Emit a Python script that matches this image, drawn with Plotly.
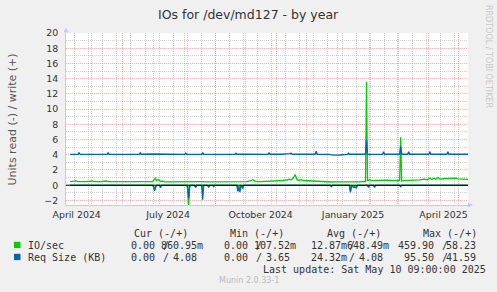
import plotly.graph_objects as go
import pandas as pd

# ---------------- data ----------------
start = pd.Timestamp("2024-04-05 09:00")
end = pd.Timestamp("2025-05-10 09:00")

# IO/sec write (+), days after start
io_write_days = [4, 8, 10, 12, 16, 20, 24, 26, 28, 32, 36, 40, 42, 46, 50, 54, 58, 62, 66, 70, 74, 78, 82, 86,
                 88, 89, 90, 92, 94, 96, 98, 102, 106, 110, 114, 118, 122, 126, 130, 134, 136, 140, 144, 148,
                 152, 156, 160, 164, 168, 172, 176, 180, 184, 186, 188, 190, 194, 198, 202, 206, 210, 214, 216,
                 218, 220, 222, 224, 226, 228, 229, 230, 232, 234, 236, 240, 244, 248, 252, 256, 260, 264, 268,
                 272, 276, 280, 284, 288, 292, 296, 298, 299, 300, 302, 304, 308, 312, 316, 320, 324, 328, 332,
                 333, 334, 336, 340, 344, 348, 352, 356, 360, 362, 364, 366, 368, 370, 372, 376, 380, 382, 386,
                 388, 390, 394, 398, 400]
io_write_vals = [.48, .50, .58, .48, .46, .47, .52, .57, .47, .45, .49, .55, .47, .46, .45, .48, .46, .47, .45, .46,
                 .45, .47, .46, .48, .70, .92, .60, .75, .48, .55, .45, .46, .47, .45, .48, .46, .50, .46, .47,
                 .52, .46, .45, .46, .45, .47, .46, .45, .47, .46, .45, .46, .48, .60, .72, .55, .48, .47, .50,
                 .47, .52, .60, .65, .62, .70, .66, .80, .68, .90, 1.40, 1.0, .70, .62, .75, .62, .58, .55, .50,
                 .47, .46, .44, .42, .43, .42, .44, .45, .43, .44, .45, .50, .46, 13.6, .55, .75, .60, .62, .64,
                 .70, .66, .62, .60, .62, 6.3, .55, .60, .62, .66, .64, .70, .80, .72, .95, .75, .92, .78, 1.0,
                 .80, .85, .88, .82, .86, .92, .82, .80, .76, .78]

# IO/sec read (-), magnitudes
io_read_days = [4, 86, 88, 89, 90, 93, 94, 95, 120, 121, 122, 123, 124, 128, 129, 130, 135, 136, 137, 141, 142,
                143, 170, 171, 172, 173, 174, 176, 177, 263, 264, 265, 282, 283, 284, 289, 290, 300, 301, 302,
                306, 307, 308, 332, 333, 334, 400]
io_read_vals = [.02, .02, .45, .15, .02, .02, .2, .02, .02, .5, 2.8, .3, .02, .02, .25, .02, .02, .6, .02, .02,
                .15, .02, .02, .45, .15, .35, .02, .2, .02, .02, .1, .02, .02, .7, .1, .2, .02, .02, .15, .02,
                .02, .15, .02, .02, .1, .02, .02]

# Req Size (KB) read (-), magnitudes
rq_read_days = [4, 87, 88, 89, 90, 93, 94, 95, 121, 122, 123, 128, 129, 130, 135, 136, 137, 141, 142, 143, 146,
                147, 148, 170, 171, 172, 173, 174, 176, 177, 263, 264, 265, 282, 283, 284, 289, 290, 300, 301,
                302, 306, 307, 308, 332, 333, 334, 400]
rq_read_vals = [.02, .02, .75, .2, .02, .02, .35, .02, .02, 1.7, .02, .02, .3, .02, .02, 1.9, .02, .02, .3, .02,
                .02, .2, .02, .02, .8, .3, .9, .1, .4, .02, .02, .2, .02, .02, .95, .2, .35, .02, .02, .3, .02,
                .02, .3, .02, .02, .2, .02, .02]

# Req Size (KB) write (+)
rq_write_days = [4, 12, 13, 14, 20, 26, 32, 41, 42, 43, 50, 60, 73, 74, 75, 88, 100, 110, 118, 119, 120, 135, 136,
                 137, 150, 160, 168, 169, 170, 180, 190, 201, 202, 203, 215, 221, 222, 224, 225, 235, 248, 249,
                 250, 262, 266, 272, 276, 280, 281, 282, 298, 299, 300, 310, 315, 316, 317, 332, 333, 334, 340,
                 341, 342, 355, 361, 362, 363, 372, 379, 380, 381, 395, 400]
rq_write_vals = [4.05, 4.05, 4.3, 4.07, 4.05, 4.06, 4.03, 4.05, 4.3, 4.06, 4.05, 4.06, 4.05, 4.3, 4.06, 4.1, 4.05,
                 4.06, 4.05, 4.2, 4.06, 4.05, 4.3, 4.07, 4.05, 4.07, 4.05, 4.2, 4.06, 4.07, 4.07, 4.05, 4.25,
                 4.07, 4.07, 4.06, 4.15, 4.2, 4.07, 4.07, 4.07, 4.45, 4.07, 4.05, 3.95, 3.97, 4.05, 4.05, 4.2,
                 4.06, 4.07, 5.9, 4.07, 4.06, 4.05, 4.4, 4.07, 4.07, 5.1, 4.07, 4.06, 4.4, 4.07, 4.07, 4.06,
                 4.4, 4.07, 4.07, 4.06, 4.4, 4.07, 4.07, 4.07]

month_label_dates = ["2024-04-16", "2024-07-16", "2024-10-16", "2025-01-16", "2025-04-16"]
month_labels = ["April 2024", "July 2024", "October 2024", "January 2025", "April 2025"]

legend_names = ["IO/sec", "Req Size (KB)"]
legend_cur = [("0.00", "860.95m"), ("0.00", "4.08")]
legend_min = [("0.00", "107.52m"), ("0.00", "3.65")]
legend_avg = [("12.87m", "648.49m"), ("24.32m", "4.08")]
legend_max = [("459.90", "58.23"), ("95.50", "41.59")]
legend_headers = ["Cur (-/+)", "Min (-/+)", "Avg (-/+)", "Max (-/+)"]

GREEN = "#00cc00"
BLUE = "#0066b3"


def to_dates(days):
    return [start + pd.Timedelta(days=d) for d in days]


# ---------------- figure ----------------
W, H = 497, 292
L, R, T, B = 66, 468, 33, 205


def px(x):
    return (x - L) / (R - L)


def py(y):
    return (B - y) / (B - T)


fig = go.Figure()
fig.add_trace(go.Scatter(x=to_dates(io_write_days), y=io_write_vals, mode="lines",
                         line=dict(color=GREEN, width=1.3), hoverinfo="skip"))
fig.add_trace(go.Scatter(x=to_dates(io_read_days), y=[-v for v in io_read_vals], mode="lines",
                         line=dict(color=GREEN, width=1.3), hoverinfo="skip"))
fig.add_trace(go.Scatter(x=to_dates(rq_read_days), y=[-v for v in rq_read_vals], mode="lines",
                         line=dict(color=BLUE, width=1.3), hoverinfo="skip"))
fig.add_trace(go.Scatter(x=to_dates(rq_write_days), y=rq_write_vals, mode="lines", xaxis="x2",
                         line=dict(color=BLUE, width=1.4), hoverinfo="skip"))

month_starts = pd.date_range("2024-05-01", "2025-05-01", freq="MS")
biweekly = pd.date_range("2024-04-14", "2025-05-10", freq="14D")

MGRID = "rgba(240,120,120,0.55)"
GRID = "rgba(160,160,160,0.5)"
AXIS = "#c4c8f4"
FONT = "DejaVu Sans"

fig.update_layout(
    width=W, height=H,
    margin=dict(l=L, r=W - R, t=T, b=H - B, pad=0),
    paper_bgcolor="#f0f0f0", plot_bgcolor="#ffffff",
    showlegend=False,
    font=dict(family=FONT, color="#333333"),
    xaxis=dict(type="date", range=[start, end], tickmode="array", tickvals=list(month_starts),
               showticklabels=False, ticks="", showgrid=True, gridcolor=MGRID, griddash="1px,1px",
               gridwidth=1, zeroline=False, showline=True, linecolor=AXIS, linewidth=1,
               minor=dict(tickmode="array", tickvals=list(biweekly), showgrid=True, gridcolor=GRID,
                          griddash="1px,1px", ticks="")),
    xaxis2=dict(type="date", range=[start, end], overlaying="x", anchor="y", side="bottom",
                tickmode="array", tickvals=month_label_dates, ticktext=month_labels, showgrid=False,
                ticks="", zeroline=False, showline=False, ticklabelstandoff=3,
                tickfont=dict(family=FONT, size=9.4, color="#333333")),
    yaxis=dict(range=[-2.6, 20.0], tickmode="array", tickvals=list(range(-2, 21, 2)), showgrid=True,
               gridcolor=MGRID, griddash="1px,1px", zeroline=False, showline=True, linecolor=AXIS,
               ticks="", ticklabelstandoff=5,
               tickfont=dict(family=FONT, size=9.4, color="#333333"),
               minor=dict(tickmode="array", tickvals=list(range(-1, 20, 2)), showgrid=True,
                          gridcolor=GRID, griddash="1px,1px", ticks="")),
)

shapes = []
# zero line
shapes.append(dict(type="line", xref="paper", yref="y", x0=0, x1=1, y0=0, y1=0,
                   line=dict(color="#000000", width=1), layer="above"))
# axis arrows
shapes.append(dict(type="path", xref="paper", yref="paper",
                   path=f"M {px(63.5)} {py(32.5)} L {px(66)} {py(27.5)} L {px(68.5)} {py(32.5)} Z",
                   fillcolor=AXIS, line=dict(width=0), layer="above"))
shapes.append(dict(type="path", xref="paper", yref="paper",
                   path=f"M {px(468)} {py(202.5)} L {px(473)} {py(205)} L {px(468)} {py(207.5)} Z",
                   fillcolor=AXIS, line=dict(width=0), layer="above"))
shapes.append(dict(type="line", xref="paper", yref="paper", x0=px(R), x1=px(469), y0=0, y1=0,
                   line=dict(color=AXIS, width=1)))
# legend squares
for i, c in enumerate([GREEN, BLUE]):
    y0 = 241.8 + 12 * i
    shapes.append(dict(type="rect", xref="paper", yref="paper", x0=px(14), x1=px(20.5),
                       y0=py(y0 + 6.3), y1=py(y0), fillcolor=c, line=dict(width=0)))
fig.update_layout(shapes=shapes)

ann = []


def text(x, y, s, size=10, family="DejaVu Sans Mono", color="#333333", xanchor="left", angle=0):
    ann.append(dict(x=px(x), y=py(y), xref="paper", yref="paper", text=s, showarrow=False,
                    xanchor=xanchor, yanchor="middle", borderpad=0, textangle=angle,
                    font=dict(family=family, size=size, color=color)))


text(248.5, 14, "IOs for /dev/md127 - by year", size=12.5, family=FONT, color="#333333", xanchor="center")
text(11.5, 120, "Units read (-) / write (+)", size=11, family=FONT, color="#555555", xanchor="center", angle=-90)
text(489, 56, "RRDTOOL / TOBI OETIKER", size=8, family=FONT, color="#c8c8c8", xanchor="center", angle=90)
text(248.5, 280.5, "Munin 2.0.33-1", size=8, family=FONT, color="#bbbbbb", xanchor="center")
text(262, 269, "Last update: Sat May 10 09:00:00 2025")

header_x = [133, 229, 326, 422]
for hx, h in zip(header_x, legend_headers):
    text(hx, 233.5, h)

CW = 6.02
slash_x = [162, 255, 348, 441]
cols = [legend_cur, legend_min, legend_avg, legend_max]
for r, name in enumerate(legend_names):
    yy = 245.5 + 12 * r
    text(27, yy, name)
    for S, col in zip(slash_x, cols):
        rd, wr = col[r]
        rd_end = S if rd[-1].isalpha() else S - CW
        wr_end = S + 7 * CW if wr[-1].isalpha() else S + 6 * CW
        text(rd_end, yy, rd, xanchor="right")
        text(S, yy, "/")
        text(wr_end, yy, wr, xanchor="right")

fig.update_layout(annotations=ann)
fig.write_html("out.html")
